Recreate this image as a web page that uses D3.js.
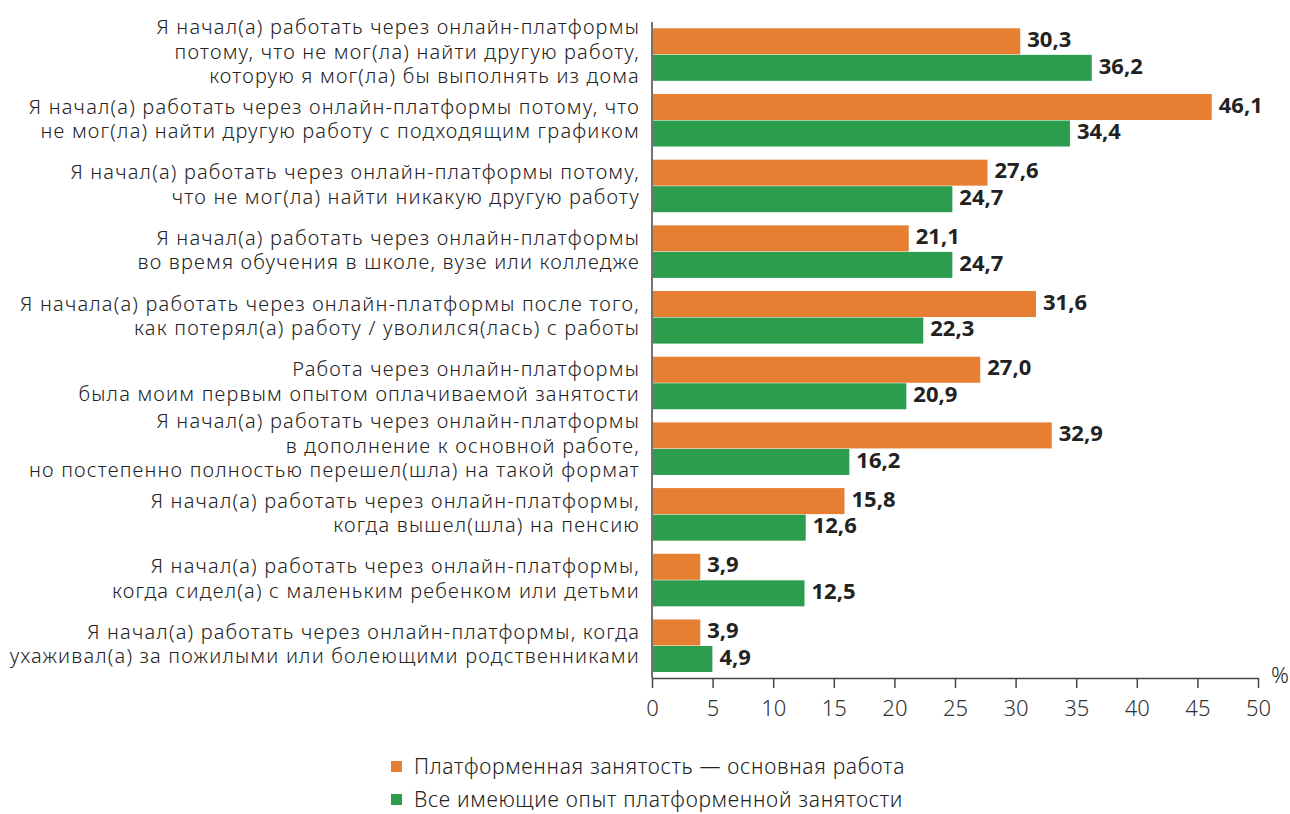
<!DOCTYPE html>
<html>
<head>
<meta charset="utf-8">
<script src="https://cdn.jsdelivr.net/npm/d3@7"></script>
<style>
  body { margin: 0; background: #fff; }
  svg text { font-family: 'Noto Sans', sans-serif; fill: #222; }
</style>
</head>
<body>
<div id="chart"></div>
<script>
const categories = [
  ['Я начал(а) работать через онлайн-платформы', 'потому, что не мог(ла) найти другую работу,', 'которую я мог(ла) бы выполнять из дома'],
  ['Я начал(а) работать через онлайн-платформы потому, что', 'не мог(ла) найти другую работу с подходящим графиком'],
  ['Я начал(а) работать через онлайн-платформы потому,', 'что не мог(ла) найти никакую другую работу'],
  ['Я начал(а) работать через онлайн-платформы', 'во время обучения в школе, вузе или колледже'],
  ['Я начала(а) работать через онлайн-платформы после того,', 'как потерял(а) работу / уволился(лась) с работы'],
  ['Работа через онлайн-платформы', 'была моим первым опытом оплачиваемой занятости'],
  ['Я начал(а) работать через онлайн-платформы', 'в дополнение к основной работе,', 'но постепенно полностью перешел(шла) на такой формат'],
  ['Я начал(а) работать через онлайн-платформы,', 'когда вышел(шла) на пенсию'],
  ['Я начал(а) работать через онлайн-платформы,', 'когда сидел(а) с маленьким ребенком или детьми'],
  ['Я начал(а) работать через онлайн-платформы, когда', 'ухаживал(а) за пожилыми или болеющими родственниками']
]
const seriesNames = ['Платформенная занятость — основная работа', 'Все имеющие опыт платформенной занятости']
const mainJob = [30.3, 46.1, 27.6, 21.1, 31.6, 27.0, 32.9, 15.8, 3.9, 3.9]
const allExp = [36.2, 34.4, 24.7, 24.7, 22.3, 20.9, 16.2, 12.6, 12.5, 4.9]
const xTicks = [0, 5, 10, 15, 20, 25, 30, 35, 40, 45, 50]

const colors = ['#e67f31', '#2b9d4c']
const width = 1290
const height = 814
const axisY = 678
const fmt = v => d3.format('.1f')(v).replace('.', ',')

const svg = d3.select('#chart').append('svg').attr('width', width).attr('height', height)

const x = d3.scaleLinear().domain([0, 50]).range([652, 1258])
const y = d3.scaleBand().domain(d3.range(categories.length)).range([25, 675.3]).paddingInner(0.2).paddingOuter(0.05)
const ySub = d3.scaleBand().domain([0, 1]).range([0, y.bandwidth()]).paddingInner(0.02)

const rows = categories.map((c, i) => ({i: i, lines: c, vals: [mainJob[i], allExp[i]]}))

// bars
const groups = svg.append('g').attr('class', 'bars')
  .selectAll('g').data(rows).enter().append('g')
  .attr('transform', d => 'translate(0,' + y(d.i) + ')')

groups.selectAll('rect').data(d => d.vals).enter().append('rect')
  .attr('x', x(0) + 1)
  .attr('y', (d, j) => ySub(j))
  .attr('width', d => x(d) - x(0))
  .attr('height', ySub.bandwidth())
  .attr('fill', (d, j) => colors[j])

groups.selectAll('.val').data(d => d.vals).enter().append('text')
  .attr('class', 'val')
  .attr('x', d => x(d) + 8)
  .attr('y', (d, j) => ySub(j) + ySub.bandwidth() / 2 - 2)
  .attr('dy', '0.35em')
  .style('font-size', '22px')
  .style('font-weight', 'bold')
  .text(d => fmt(d))

// category labels
const lh = 24.5
groups.append('text')
  .attr('class', 'cat')
  .attr('text-anchor', 'end')
  .style('font-size', '20px')
  .style('font-weight', '300')
  .style('letter-spacing', '1.2px')
  .each(function(d) {
    const n = d.lines.length
    const t = d3.select(this)
    d.lines.forEach((line, k) => {
      t.append('tspan')
        .attr('x', 640)
        .attr('y', y.bandwidth() / 2 + (k - (n - 1) / 2) * lh - 1.5 * (n - 1))
        .attr('dy', '0.35em')
        .text(line)
    })
  })

// axes
const xAxis = d3.axisBottom(x).tickValues(xTicks).tickSize(10).tickPadding(12).tickSizeOuter(0)
const gx = svg.append('g').attr('transform', 'translate(0,' + axisY + ')').call(xAxis)
gx.select('.domain').attr('stroke', '#444').attr('stroke-width', 1.5)
gx.selectAll('.tick line').attr('stroke', '#444').attr('stroke-width', 1.5)
gx.selectAll('.tick text').style('font-size', '22px').style('font-weight', '300').style('fill', '#333')

svg.append('line').attr('x1', x(0)).attr('x2', x(0)).attr('y1', 22).attr('y2', axisY)
  .attr('stroke', '#444').attr('stroke-width', 1.5)

svg.append('text').attr('x', 1271).attr('y', 683).style('font-size', '22px').style('font-weight', '300').text('%')

// legend
const legend = svg.append('g').selectAll('g').data(seriesNames).enter().append('g')
  .attr('transform', (d, i) => 'translate(391,' + (761 + i * 33) + ')')
legend.append('rect').attr('width', 11).attr('height', 11).attr('fill', (d, i) => colors[i])
legend.append('text').attr('x', 23).attr('y', 5.5).attr('dy', '0.35em')
  .style('font-size', '21px').style('font-weight', '300').style('letter-spacing', '0.7px').text(d => d)
</script>
</body>
</html>
